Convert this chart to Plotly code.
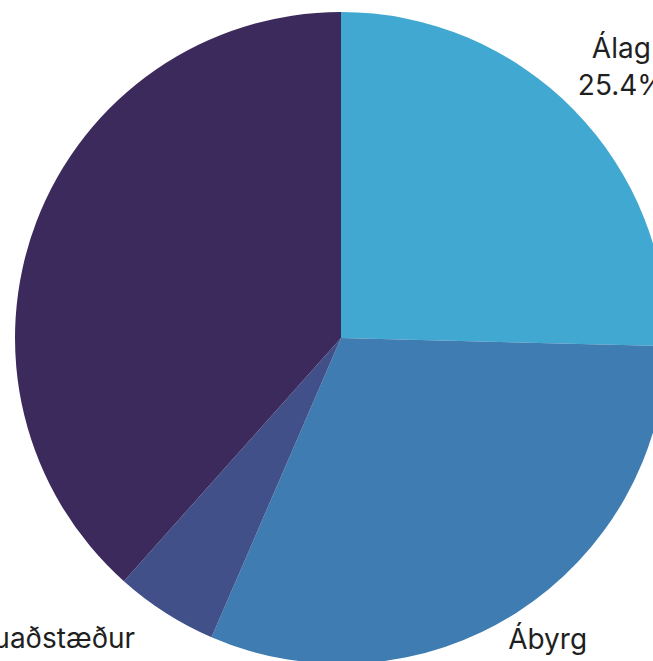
import plotly.graph_objects as go

# ---- data ----
labels = ["Álag", "Ábyrg", "Vinnuaðstæður", "Samskipti"]
values = [25.4, 31.1, 5.1, 38.4]
colors = ["#41A8D1", "#3E7CB1", "#415089", "#3C2A5C"]

# ---- layout helpers ----
W = H = 820
BODY = 0  # page margin removed by the post script below


def domain(cx, cy, r):
    """page-pixel centre / radius -> paper domain of a pie"""
    return dict(
        x=[(cx - BODY - r) / W, (cx - BODY + r) / W],
        y=[1 - (cy - BODY + r) / H, 1 - (cy - BODY - r) / H],
    )


font = dict(family="Inter", size=28, color="#1f1f1f")
clear = ["rgba(0,0,0,0)"] * len(values)
tmpl = "%{label}<br>%{percent:.1%}"

common = dict(
    labels=labels, values=values, sort=False, direction="clockwise",
    rotation=0, showlegend=False, automargin=False, hoverinfo="skip",
)

fig = go.Figure()
# visible pie
fig.add_trace(go.Pie(
    **common,
    marker=dict(colors=colors, line=dict(width=0)),
    textinfo="none",
    domain=domain(341, 338, 326),
))
# outside labels (upper side)
fig.add_trace(go.Pie(
    **common,
    marker=dict(colors=clear, line=dict(width=0)),
    texttemplate=tmpl,
    textposition=["outside", "none", "none", "none"],
    outsidetextfont=font,
    domain=domain(395.3, 244.1, 230),
))
# outside labels (lower side)
fig.add_trace(go.Pie(
    **common,
    marker=dict(colors=clear, line=dict(width=0)),
    texttemplate=tmpl,
    textposition=["none", "outside", "outside", "none"],
    outsidetextfont=font,
    domain=domain(321.5, 366.8, 313.5),
))

fig.update_layout(
    width=W, height=H,
    margin=dict(l=0, r=0, t=0, b=0, autoexpand=False),
    paper_bgcolor="white",
    plot_bgcolor="white",
)
fig.write_html(
    "out.html",
    post_script="document.body.style.margin='0px';document.documentElement.style.overflow='hidden';",
)
